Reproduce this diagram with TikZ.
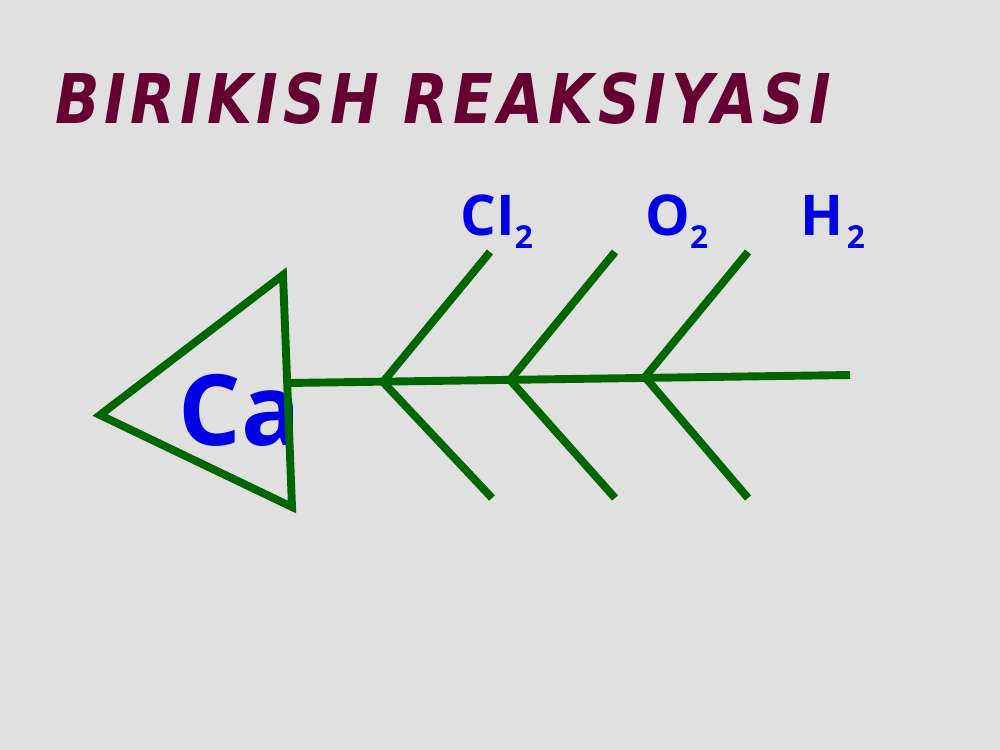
\documentclass[tikz,border=0pt]{standalone}
\usepackage{fontspec}
\setmainfont{Open Sans}
\newfontfamily\titlefont[LetterSpace=7,FakeStretch=0.85]{DejaVu Sans}
\definecolor{bggray}{RGB}{224,224,224}
\definecolor{bonegreen}{RGB}{0,102,0}
\definecolor{titlered}{RGB}{102,0,51}
\definecolor{elemblue}{RGB}{0,0,230}
\newcommand\molsub[1]{\raisebox{-7.4pt}{\fontsize{18}{18}\selectfont #1}}
\tikzset{
  bone/.style={draw=bonegreen, line width=4.5pt},
  elem/.style={inner sep=0pt, anchor=base west, text=elemblue,
    font=\fontsize{32}{32}\selectfont\bfseries},
}

\begin{document}
\begin{tikzpicture}[x=0.02cm,y=-0.02cm]
  \fill[bggray] (0,0) rectangle (1000,750);
  \useasboundingbox (0,0) rectangle (1000,750);

  % title
  \node[inner sep=0pt, anchor=base west, text=titlered,
    font=\titlefont\fontsize{39}{39}\selectfont\bfseries\itshape]
    (title) at (55,123) {BIRIKISH REAKSIYASI};

  % labels
  \node[elem] (cl) at (460,235) {CI\molsub{2}};
  \node[elem] (ox) at (645,235) {O\molsub{2}};
  \node[elem] (hy) at (800,235) {H\kern2pt\molsub{2}};
  \node[elem, font=\fontsize{56}{56}\selectfont\bfseries] (ca) at (178,445) {Ca};

  % head
  \coordinate (tipl) at (100,415);
  \coordinate (tipt) at (283,275);
  \coordinate (tipb) at (292,507);
  \draw[bone, line join=miter] (tipl) -- (tipt) -- (tipb) -- cycle;

  % spine
  \coordinate (sp0) at (288,383);
  \coordinate (sp1) at (850,375);
  \draw[bone] (sp0) -- (sp1);

  % bones
  \coordinate (ja) at (383,382);
  \coordinate (jb) at (510,380);
  \coordinate (jc) at (645,377);
  \coordinate (ua) at (490,252);
  \coordinate (ub) at (615,252);
  \coordinate (uc) at (748,252);
  \coordinate (la) at (492,498);
  \coordinate (lb) at (615,498);
  \coordinate (lc) at (748,498);
  \draw[bone] (ua) -- (ja) -- (la);
  \draw[bone] (ub) -- (jb) -- (lb);
  \draw[bone] (uc) -- (jc) -- (lc);
\end{tikzpicture}
\end{document}
